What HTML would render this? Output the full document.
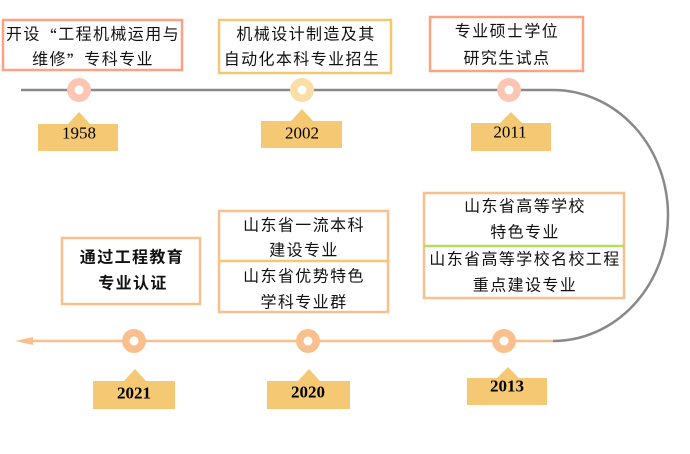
<!DOCTYPE html>
<html><head><meta charset="utf-8"><style>
html,body{margin:0;padding:0;background:#fff;}
svg{display:block;}
.cn{font-family:"Liberation Sans","Noto Sans CJK SC",sans-serif;font-size:16px;fill:#111;letter-spacing:1.4px;}
.q{font-family:"Noto Sans CJK SC",sans-serif;font-feature-settings:"fwid" 1;}
.yr{font-family:"Liberation Serif",serif;font-size:17px;fill:#000;}
</style></head><body>
<svg width="690" height="454" viewBox="0 0 690 454" xmlns="http://www.w3.org/2000/svg">
<!-- timeline lines -->
<line x1="21" y1="90" x2="553" y2="90" stroke="#898989" stroke-width="2.5"/>
<path d="M553,90 A115,125.5 0 0 1 553,341" fill="none" stroke="#898989" stroke-width="2.5"/>
<line x1="30" y1="341" x2="553" y2="341" stroke="#f9c08e" stroke-width="2.5"/>
<polygon points="15,341 33,337 33,345" fill="#f9c08e"/>

<!-- circles top -->
<circle cx="79" cy="90" r="8.2" fill="#fff" stroke="#fcc6b2" stroke-width="7.5"/>
<circle cx="302" cy="90" r="8.2" fill="#fff" stroke="#fbdea5" stroke-width="7.5"/>
<circle cx="509" cy="90" r="8.2" fill="#fff" stroke="#fcc6b2" stroke-width="7.5"/>
<!-- circles bottom -->
<circle cx="134" cy="341" r="8.2" fill="#fff" stroke="#f9c08e" stroke-width="7.5"/>
<circle cx="308" cy="341" r="8.2" fill="#fff" stroke="#f9c08e" stroke-width="7.5"/>
<circle cx="504" cy="341" r="8.2" fill="#fff" stroke="#f9c08e" stroke-width="7.5"/>

<!-- year labels -->
<polygon points="38,124 68,124 79,112 90,124 118,124 118,151 38,151" fill="#f5c974"/>
<polygon points="261,121 291,121 302,109 313,121 342,121 342,148 261,148" fill="#f5c974"/>
<polygon points="471,123 500,123 511,112 522,123 551,123 551,151 471,151" fill="#f5c974"/>
<polygon points="93,381 124,381 135,369 146,381 175,381 175,409 93,409" fill="#f5c974"/>
<polygon points="267,381 298,381 309,369 320,381 350,381 350,409 267,409" fill="#f5c974"/>
<polygon points="467,378 497,378 508,367 519,378 547,378 547,405 467,405" fill="#f5c974"/>

<text class="yr" x="79" y="133" text-anchor="middle" dominant-baseline="central">1958</text>
<text class="yr" x="302" y="133" text-anchor="middle" dominant-baseline="central">2002</text>
<text class="yr" x="510" y="132" text-anchor="middle" dominant-baseline="central">2011</text>
<text class="yr" x="134" y="393" text-anchor="middle" dominant-baseline="central" font-weight="bold">2021</text>
<text class="yr" x="308" y="392" text-anchor="middle" dominant-baseline="central" font-weight="bold">2020</text>
<text class="yr" x="507" y="386" text-anchor="middle" dominant-baseline="central" font-weight="bold">2013</text>

<!-- top boxes -->
<rect x="3" y="20" width="179" height="50" fill="#fff" stroke="#f9a384" stroke-width="2.5"/>
<text class="cn" x="93" y="35" text-anchor="middle" dominant-baseline="central">开设<tspan class="q">“</tspan>工程机械运用与</text>
<text class="cn" x="93" y="60" text-anchor="middle" dominant-baseline="central">维修<tspan class="q">”</tspan>专科专业</text>

<rect x="219" y="20" width="172" height="53" fill="#fff" stroke="#f5c76e" stroke-width="2.5"/>
<text class="cn" x="306" y="35" text-anchor="middle" dominant-baseline="central">机械设计制造及其</text>
<text class="cn" x="302" y="60" text-anchor="middle" dominant-baseline="central">自动化本科专业招生</text>

<rect x="430" y="17" width="153" height="54" fill="#fff" stroke="#f9a384" stroke-width="2.5"/>
<text class="cn" x="507" y="32" text-anchor="middle" dominant-baseline="central">专业硕士学位</text>
<text class="cn" x="507" y="59" text-anchor="middle" dominant-baseline="central">研究生试点</text>

<!-- bottom boxes -->
<rect x="62" y="238" width="138" height="66" fill="#fff" stroke="#f9c08e" stroke-width="2.5"/>
<text class="cn" x="132" y="258" text-anchor="middle" dominant-baseline="central" font-weight="bold">通过工程教育</text>
<text class="cn" x="133" y="284" text-anchor="middle" dominant-baseline="central" font-weight="bold">专业认证</text>

<rect x="219" y="211" width="169" height="101" fill="#fff" stroke="#f9c08e" stroke-width="2.5"/>
<line x1="219" y1="261" x2="388" y2="261" stroke="#f5c76e" stroke-width="2.5"/>
<text class="cn" x="304" y="226" text-anchor="middle" dominant-baseline="central">山东省一流本科</text>
<text class="cn" x="304" y="251" text-anchor="middle" dominant-baseline="central">建设专业</text>
<text class="cn" x="304" y="277" text-anchor="middle" dominant-baseline="central">山东省优势特色</text>
<text class="cn" x="304" y="303" text-anchor="middle" dominant-baseline="central">学科专业群</text>

<rect x="424" y="193" width="200" height="105" fill="#fff" stroke="#f9c08e" stroke-width="2.5"/>
<line x1="424" y1="246" x2="624" y2="246" stroke="#b3df5b" stroke-width="2.5"/>
<text class="cn" x="525" y="207" text-anchor="middle" dominant-baseline="central">山东省高等学校</text>
<text class="cn" x="525" y="233" text-anchor="middle" dominant-baseline="central">特色专业</text>
<text class="cn" x="525" y="260" text-anchor="middle" dominant-baseline="central">山东省高等学校名校工程</text>
<text class="cn" x="525" y="286" text-anchor="middle" dominant-baseline="central">重点建设专业</text>
</svg>
</body></html>
